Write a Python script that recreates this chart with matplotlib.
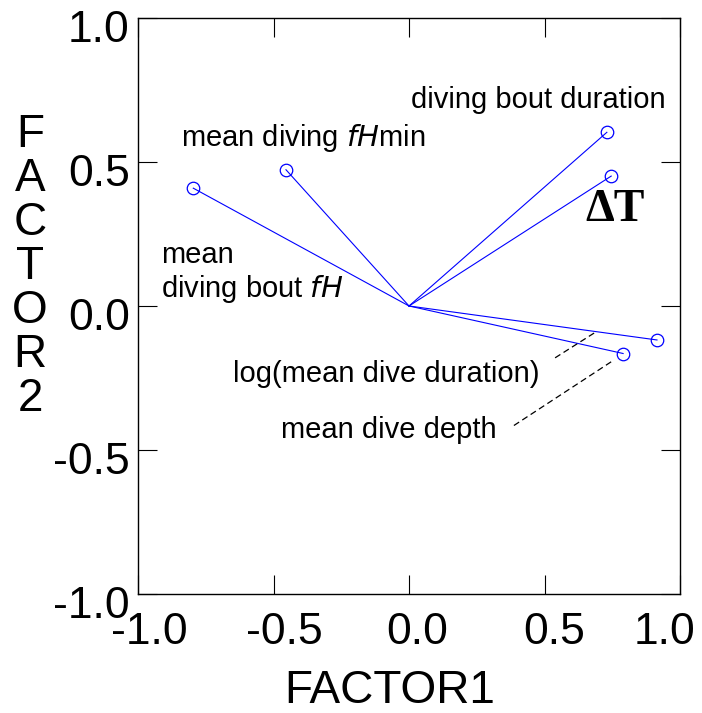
import matplotlib
matplotlib.use("Agg")
import matplotlib.pyplot as plt
import matplotlib.transforms as mtransforms
import numpy as np

# loadings
variables = ["mean diving bout fH", "mean diving fHmin", "diving bout duration",
             "dT", "log(mean dive duration)", "mean dive depth"]
factor1 = [-0.796, -0.454, 0.730, 0.746, 0.915, 0.790]
factor2 = [0.409, 0.473, 0.603, 0.451, -0.118, -0.165]

# dashed leader lines (label -> point)
leader_x = [[0.539, 0.683], [0.387, 0.757]]
leader_y = [[-0.180, -0.094], [-0.415, -0.187]]

ticks = [-1.0, -0.5, 0.0, 0.5, 1.0]
tick_labels = ["-1.0", "-0.5", "0.0", "0.5", "1.0"]

plt.rcParams['font.family'] = ['Liberation Sans', 'DejaVu Sans']

fig = plt.figure(figsize=(7.02, 7.13), dpi=100)
ax = fig.add_axes([0.1966, 0.1669, 0.7721, 0.8079])

for x, y in zip(factor1, factor2):
    ax.plot([0, x], [0, y], color='blue', lw=0.8)
ax.plot(factor1, factor2, 'o', mfc='none', mec='blue', ms=9, mew=0.9, ls='none')

for lx, ly in zip(leader_x, leader_y):
    ax.plot(lx, ly, color='black', lw=0.9, ls=(0, (5, 3)))

fs = 21
ax.text(0.478, 0.689, "diving bout duration", fontsize=fs, ha='center', va='baseline')
ax.text(-0.841, 0.554, "mean diving $\\mathit{fH}$min", fontsize=fs, ha='left', va='baseline')
ax.text(-0.915, 0.150, "mean", fontsize=fs, ha='left', va='baseline')
ax.text(-0.915, 0.032, "diving bout $\\mathit{fH}$", fontsize=fs, ha='left', va='baseline')
ax.text(-0.649, -0.263, "log(mean dive duration)", fontsize=fs, ha='left', va='baseline')
ax.text(-0.472, -0.460, "mean dive depth", fontsize=fs, ha='left', va='baseline')
ax.text(0.760, 0.332, "\u0394T", fontsize=33, fontweight='bold',
        family=['Liberation Serif', 'DejaVu Serif'], ha='center', va='center')

ax.set_xlim(-1, 1)
ax.set_ylim(-1, 1)
ax.set_xticks(ticks)
ax.set_xticklabels(tick_labels)
ax.set_yticks(ticks)
ax.set_yticklabels(tick_labels)
ax.tick_params(direction='in', length=13.7, width=0.8, labelsize=32,
               top=True, right=True)
ax.tick_params(axis='x', pad=13)
ax.tick_params(axis='y', pad=6)
for s in ax.spines.values():
    s.set_linewidth(1.0)

# tick labels sit a little off their ticks in the original
x_shift = [11, 11, 8, 10, -16]
for tick, dx in zip(ax.xaxis.get_major_ticks(), x_shift):
    off = mtransforms.ScaledTranslation(dx / 100, 0, fig.dpi_scale_trans)
    tick.label1.set_transform(tick.label1.get_transform() + off)
for tick in ax.yaxis.get_major_ticks():
    off = mtransforms.ScaledTranslation(0, -8 / 100, fig.dpi_scale_trans)
    tick.label1.set_transform(tick.label1.get_transform() + off)

fig.text(390 / 702, 1 - 703 / 713, "FACTOR1", fontsize=33, ha='center', va='baseline')
fig.text(30 / 702, 1 - 267 / 713, "F\nA\nC\nT\nO\nR\n2", fontsize=33, ha='center',
         va='center', multialignment='center', linespacing=1.0)

fig.savefig("out.png", dpi=100)
